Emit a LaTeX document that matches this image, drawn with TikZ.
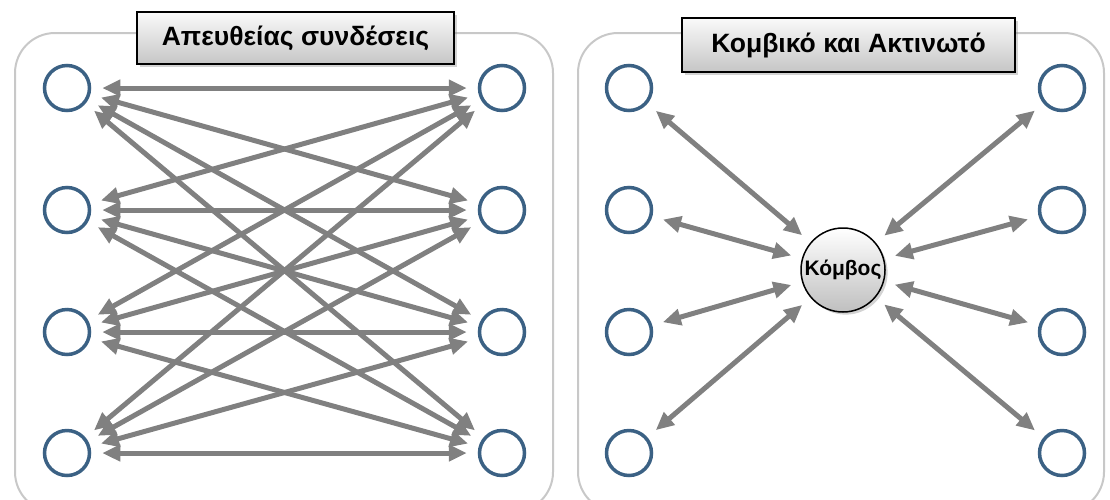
\documentclass[tikz,border=0pt]{standalone}
\usepackage{fontspec}
\setmainfont{Liberation Sans}
\usetikzlibrary{arrows.meta,shadows}
\definecolor{ring}{HTML}{3B6184}
\definecolor{link}{HTML}{808080}
\definecolor{frame}{HTML}{C8C8C8}

\begin{document}
\begin{tikzpicture}[x=1pt, y=-1pt,
  panel/.style={draw=frame, line width=2pt, rounded corners=40pt},
  title/.style={draw=black, line width=1.3pt, top color=gray!4, bottom color=gray!45,
    drop shadow={opacity=0.35}, inner sep=0pt,
    font=\fontsize{26.5}{30}\selectfont\bfseries},
  station/.style={circle, draw=ring, line width=3.5pt, minimum size=45pt, inner sep=0pt},
  hub/.style={circle, draw=black, line width=1.5pt, minimum size=84pt,
    inner sep=0pt, top color=white, bottom color=gray!50, drop shadow={opacity=0.35},
    font=\fontsize{21}{24}\selectfont\bfseries},
  duplex/.style={{Triangle[length=18pt,width=16pt]}-{Triangle[length=18pt,width=16pt]},
    line width=5pt, draw=link, shorten <=11pt, shorten >=11pt}
]
\useasboundingbox (0,0) rectangle (1110,499);

% frames
\draw[panel] (15,33) rectangle (553,512);
\draw[panel] (578,33) rectangle (1104,512);

% left: direct links
\node[station] (a1) at (67,88) {};
\node[station] (a2) at (67,210) {};
\node[station] (a3) at (67,332) {};
\node[station] (a4) at (67,453) {};
\node[station] (b1) at (502,88) {};
\node[station] (b2) at (502,210) {};
\node[station] (b3) at (502,332) {};
\node[station] (b4) at (502,453) {};

\draw[duplex] (a1) -- (b1);
\draw[duplex] (a1) -- (b2);
\draw[duplex] (a1) -- (b3);
\draw[duplex] (a1) -- (b4);
\draw[duplex] (a2) -- (b1);
\draw[duplex] (a2) -- (b2);
\draw[duplex] (a2) -- (b3);
\draw[duplex] (a2) -- (b4);
\draw[duplex] (a3) -- (b1);
\draw[duplex] (a3) -- (b2);
\draw[duplex] (a3) -- (b3);
\draw[duplex] (a3) -- (b4);
\draw[duplex] (a4) -- (b1);
\draw[duplex] (a4) -- (b2);
\draw[duplex] (a4) -- (b3);
\draw[duplex] (a4) -- (b4);

% right: star around the hub
\node[station] (c1) at (629,88) {};
\node[station] (c2) at (629,210) {};
\node[station] (c3) at (629,332) {};
\node[station] (c4) at (629,453) {};
\node[station] (d1) at (1062,88) {};
\node[station] (d2) at (1062,210) {};
\node[station] (d3) at (1062,332) {};
\node[station] (d4) at (1062,453) {};
\node[hub] (k) at (843,270) {Κόμβος};

\draw[duplex] (c1) -- (k);
\draw[duplex] (c2) -- (k);
\draw[duplex] (c3) -- (k);
\draw[duplex] (c4) -- (k);
\draw[duplex] (d1) -- (k);
\draw[duplex] (d2) -- (k);
\draw[duplex] (d3) -- (k);
\draw[duplex] (d4) -- (k);

% titles
\node[title, minimum width=317pt, minimum height=52pt] (t1) at (295.5,38) {Απευθείας συνδέσεις};
\node[title, minimum width=333pt, minimum height=54pt] (t2) at (848.5,45) {Κομβικό και Ακτινωτό};

\end{tikzpicture}
\end{document}
